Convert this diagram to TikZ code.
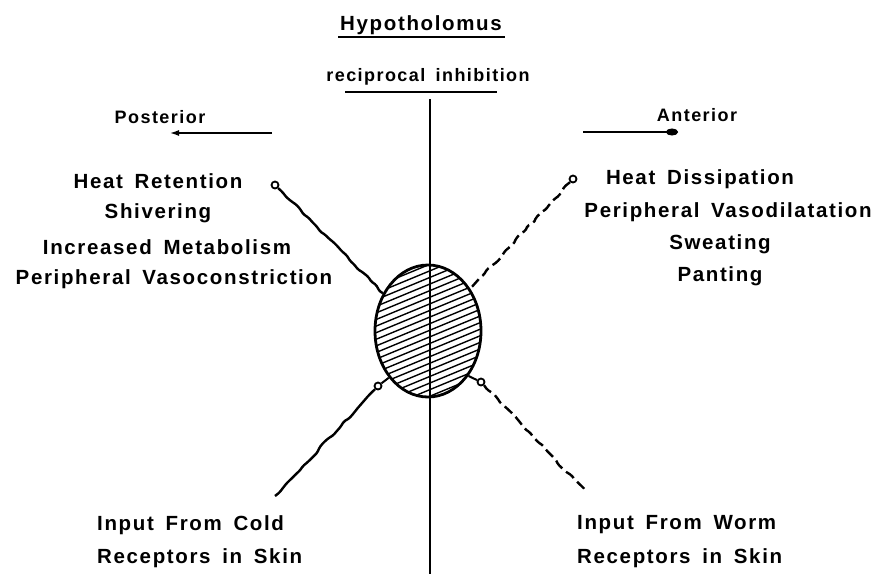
\documentclass[tikz,border=0pt]{standalone}
\usepackage{fontspec}
\newfontfamily\lab{Liberation Sans}[LetterSpace=8,WordSpace=1.6]
\usetikzlibrary{shapes.geometric,arrows.meta,decorations.pathmorphing,calc}
\begin{document}
\begin{tikzpicture}[x=1pt,y=-1pt,
  txt/.style={font=\lab\bfseries\fontsize{20.5}{22}\selectfont, inner sep=0pt},
  stxt/.style={font=\lab\bfseries\fontsize{18}{20}\selectfont, inner sep=0pt},
  uline/.style={line width=2pt},
  wire/.style={line width=2.4pt, decorate, decoration={random steps, segment length=6pt, amplitude=1.2pt}, rounded corners=1.5pt},
  dwire/.style={wire, dash pattern=on 10pt off 5pt},
  loopc/.style={circle, draw, line width=1.8pt, minimum size=7pt, inner sep=0pt},
  hatch/.style={line width=1.4pt}]
\pgfmathsetseed{7}
\useasboundingbox (0,0) rectangle (884,574);

% titles
\node[txt, anchor=base] (hyptitle) at (421,30) {Hypotholomus};
\coordinate (hu1) at (338,37); \coordinate (hu2) at (505,37);
\draw[uline] (hu1) -- (hu2);
\node[stxt, anchor=base] (recip) at (428,81) {reciprocal inhibition};
\coordinate (ru1) at (345,92); \coordinate (ru2) at (497,92);
\draw[uline] (ru1) -- (ru2);

% posterior / anterior
\node[stxt] (post) at (160,117) {Posterior};
\coordinate (pa1) at (272,133); \coordinate (pa2) at (170,133);
\draw[line width=1.4pt, -{Latex[length=9pt,width=6pt]}] (pa1) -- (pa2);
\node[stxt] (ant) at (697,115) {Anterior};
\coordinate (aa1) at (583,132); \coordinate (aa2) at (678,132);
\draw[line width=1.4pt, -{Ellipse[length=12pt,width=7pt]}] (aa1) -- (aa2);

% left block
\node[txt] (l1) at (158,181) {Heat Retention};
\node[txt] (l2) at (158,213) {Shivering};
\node[txt] (l3) at (167,247) {Increased Metabolism};
\node[txt] (l4) at (174,279) {Peripheral Vasoconstriction};

% right block
\node[txt] (r1) at (700,179) {Heat Dissipation};
\node[txt] (r2) at (728,212) {Peripheral Vasodilatation};
\node[txt] (r3) at (720,244) {Sweating};
\node[txt] (r4) at (720,276) {Panting};

% bottom
\node[txt, anchor=west] (b1) at (97,525) {Input From Cold};
\node[txt, anchor=west] (b2) at (97,558) {Receptors in Skin};
\node[txt, anchor=west] (b3) at (577,525) {Input From Worm};
\node[txt, anchor=west] (b4) at (577,558) {Receptors in Skin};

% hypothalamus ellipse with hatching
\node[ellipse, draw, line width=2.8pt, minimum width=106pt, minimum height=132pt, inner sep=0pt,
  path picture={
    \foreach \k in {-18,...,18}
      \draw[hatch] ($(path picture bounding box.center)+(-70,\k*6.6+29)$) -- ++(140,-58);
  }] (hyp) at (428,331) {};

% vertical line
\coordinate (vtop) at (430,99); \coordinate (vbot) at (430,574);
\draw[line width=1.3pt] (vtop) -- (vbot);

% connectors
\node[loopc] (ulc) at (275,185) {};
\draw[wire] (ulc) -- (hyp.140);
\node[loopc] (urc) at (573,179) {};
\draw[dwire] (urc) -- (hyp.45);
\node[loopc] (llc) at (378,386) {};
\coordinate (llend) at (275,496);
\draw[wire] (llend) -- (llc);
\draw[line width=2pt] (llc) -- (hyp.230);
\node[loopc] (lrc) at (481,382) {};
\coordinate (lrend) at (586,492);
\draw[dwire] (lrc) -- (lrend);
\draw[line width=2pt] (lrc) -- (hyp.312);
\end{tikzpicture}
\end{document}
